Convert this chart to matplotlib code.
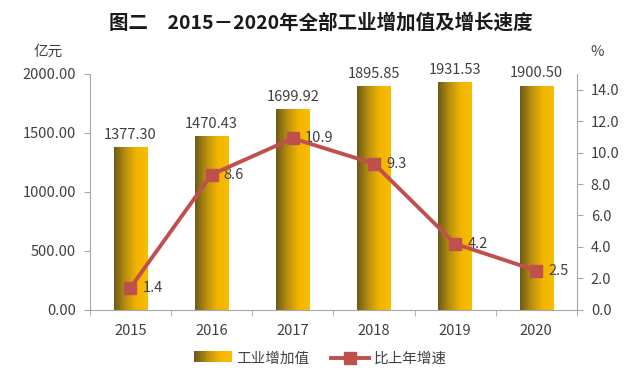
import numpy as np
import matplotlib
matplotlib.use("Agg")
import matplotlib.pyplot as plt
from matplotlib.patches import Rectangle
from matplotlib.colors import LinearSegmentedColormap
from matplotlib.legend_handler import HandlerBase

plt.rcParams['font.family'] = ['Noto Sans CJK SC', 'DejaVu Sans']

years = ["2015", "2016", "2017", "2018", "2019", "2020"]
value_added = [1377.30, 1470.43, 1699.92, 1895.85, 1931.53, 1900.50]
growth = [1.4, 8.6, 10.9, 9.3, 4.2, 2.5]

TEXT = "#404040"
AXIS = "#a6a6a6"
LINE = "#c0504d"
grad = LinearSegmentedColormap.from_list("gold", ["#6e5a1a", "#b88f0e", "#f2b400", "#f8bd00"])


class GradientHandler(HandlerBase):
    def create_artists(self, legend, orig, xd, yd, w, h, fontsize, trans):
        n = 20
        arts = []
        for k in range(n):
            r = Rectangle((xd + w * k / n, yd), w / n + 0.3, h,
                          facecolor=grad(k / (n - 1)), edgecolor="none", transform=trans)
            arts.append(r)
        return arts


fig = plt.figure(figsize=(6.41, 3.83), dpi=100)
ax = fig.add_axes([0.140, 0.191, 0.760, 0.616])
ax2 = ax.twinx()

x = np.arange(len(years))
bars = ax.bar(x, value_added, width=0.41, color="none", zorder=2)
img = np.linspace(0, 1, 100).reshape(1, -1)
for b in bars:
    x0, w, h = b.get_x(), b.get_width(), b.get_height()
    im = ax.imshow(img, cmap=grad, aspect="auto", extent=[x0, x0 + w, 0, h], zorder=2)
    im.set_clip_path(b)
for xi, v in zip(x, value_added):
    ax.text(xi, v + 45, f"{v:.2f}", ha="center", va="bottom", fontsize=10.5, color=TEXT)

ax.set_xlim(-0.5, len(years) - 0.5)
ax.set_ylim(0, 2000)
ax.set_yticks(np.arange(0, 2001, 500))
ax.set_yticklabels([f"{t:.2f}" for t in np.arange(0, 2001, 500)])
ax.set_xticks(x)
ax.set_xticklabels(years)
ax.set_xticks(np.arange(-0.5, len(years), 1), minor=True)
ax.tick_params(axis="x", which="major", length=0, pad=10, labelsize=10.5, labelcolor=TEXT)
ax.tick_params(axis="x", which="minor", length=4, color=AXIS, direction="out")
ax.tick_params(axis="y", length=4, color=AXIS, labelsize=10.5, labelcolor=TEXT, pad=6)

ax2.plot(x, growth, color=LINE, lw=2.8, marker="s", markersize=8.5, zorder=5)
for xi, g in zip(x, growth):
    ax2.text(xi + 0.15, g, f"{g:.1f}", ha="left", va="center", fontsize=10.5, color=TEXT)
ax2.set_ylim(0, 15)
ax2.set_yticks(np.arange(0, 15, 2))
ax2.set_yticklabels([f"{t:.1f}" for t in np.arange(0, 15, 2)])
ax2.tick_params(axis="y", length=4, color=AXIS, labelsize=10.5, labelcolor=TEXT, pad=6)

for a in (ax, ax2):
    for s in a.spines.values():
        s.set_color(AXIS)
    a.spines["top"].set_visible(False)
ax.spines["right"].set_visible(False)
ax2.spines["left"].set_visible(False)
ax2.spines["bottom"].set_visible(False)
ax2.set_zorder(ax.get_zorder() + 1)
ax2.patch.set_visible(False)

fig.text(0.5, 0.94, "图二　2015－2020年全部工业增加值及增长速度", ha="center", va="center",
         fontsize=14, fontweight="bold", color="#1a1a1a")
fig.text(0.075, 0.865, "亿元", ha="center", va="center", fontsize=10.5, color=TEXT)
fig.text(0.932, 0.865, "%", ha="center", va="center", fontsize=10.5, color=TEXT)

line_handle = plt.Line2D([], [], color=LINE, lw=2.8, marker="s", markersize=8.5)
fig.legend([bars, line_handle], ["工业增加值", "比上年增速"], loc="center",
           bbox_to_anchor=(0.5, 0.063), ncol=2, frameon=False, fontsize=10.5,
           handler_map={type(bars): GradientHandler()}, handlelength=2.6,
           handleheight=0.8, columnspacing=1.5, handletextpad=0.3, labelcolor=TEXT)

fig.savefig("out.png", dpi=100)
